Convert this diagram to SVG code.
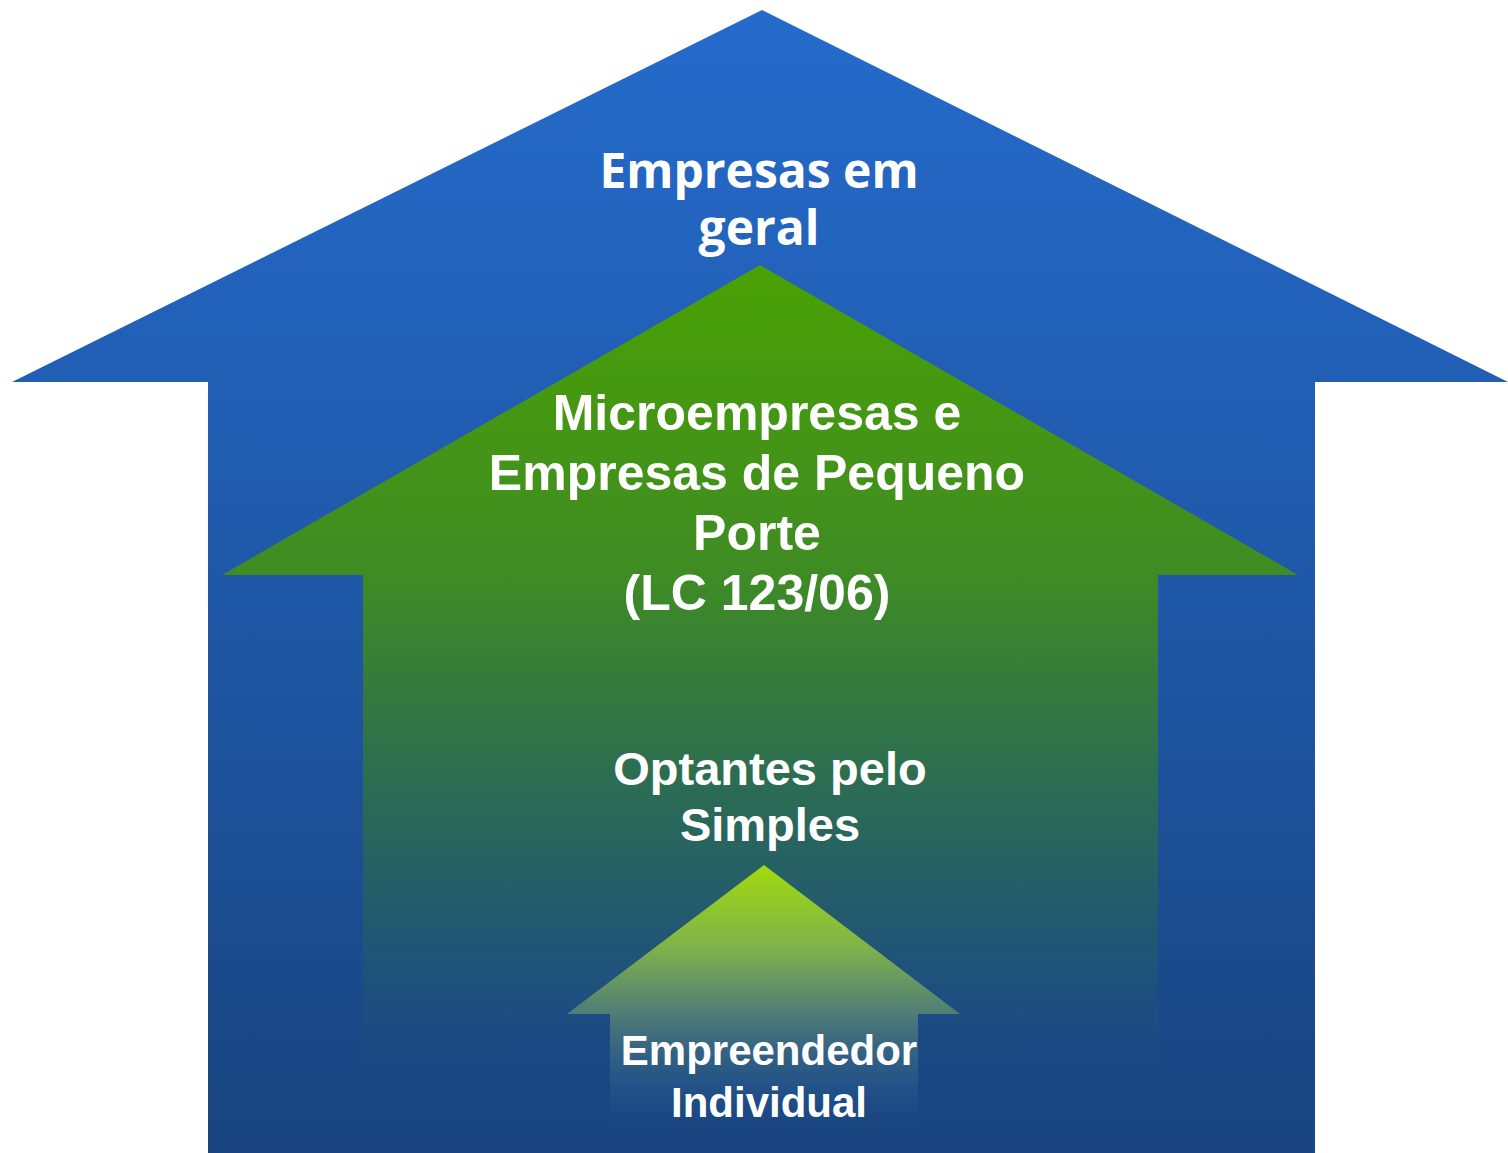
<svg xmlns="http://www.w3.org/2000/svg" width="1508" height="1153" viewBox="0 0 1508 1153">
<defs>
<linearGradient id="gBlue" gradientUnits="userSpaceOnUse" x1="0" y1="10" x2="0" y2="1153">
<stop offset="0" stop-color="#256bcc"/>
<stop offset="0.5" stop-color="#1f58a8"/>
<stop offset="1" stop-color="#19447f"/>
</linearGradient>
<linearGradient id="gGreen" gradientUnits="userSpaceOnUse" x1="0" y1="265" x2="0" y2="1120">
<stop offset="0" stop-color="#4aa103"/>
<stop offset="0.36" stop-color="#3f8c24"/>
<stop offset="0.56" stop-color="#2f724a"/>
<stop offset="0.75" stop-color="#235b6c"/>
<stop offset="0.88" stop-color="#1d4e7e" stop-opacity="0.7"/>
<stop offset="1" stop-color="#1a4786" stop-opacity="0"/>
</linearGradient>
<linearGradient id="gSmall" gradientUnits="userSpaceOnUse" x1="0" y1="865" x2="0" y2="1140">
<stop offset="0" stop-color="#a2da0e"/>
<stop offset="0.3" stop-color="#7fb24a"/>
<stop offset="0.55" stop-color="#4d7a78"/>
<stop offset="0.8" stop-color="#2a5a8a" stop-opacity="0.6"/>
<stop offset="1" stop-color="#1a4786" stop-opacity="0"/>
</linearGradient>
</defs>
<style>
.t{fill:#ffffff;font-weight:bold;text-anchor:middle}
.os{font-family:"Open Sans","DejaVu Sans",sans-serif}
.ar{font-family:"Liberation Sans",Arial,sans-serif}
</style>
<g id="empresas-em-geral">
<polygon points="762,10 1508,382 1315,382 1315,1153 208,1153 208,382 12,382" fill="url(#gBlue)"/>
<text class="t os" x="759" y="188" font-size="48">Empresas em</text>
<text class="t os" x="759" y="245" font-size="48">geral</text>
</g>
<g id="microempresas">
<polygon points="760,265 1298,575 1158,575 1158,1120 363,1120 363,575 222,575" fill="url(#gGreen)"/>
<text class="t ar" x="757" y="430" font-size="50">Microempresas e</text>
<text class="t ar" x="757" y="490" font-size="50">Empresas de Pequeno</text>
<text class="t ar" x="757" y="550" font-size="50">Porte</text>
<text class="t ar" x="757" y="610" font-size="50">(LC 123/06)</text>
</g>
<g id="optantes-simples">
<text class="t ar" x="770" y="785" font-size="47">Optantes pelo</text>
<text class="t ar" x="770" y="841" font-size="47">Simples</text>
</g>
<g id="empreendedor-individual">
<polygon points="764,865 960,1014 918,1014 918,1140 610,1140 610,1014 567,1014" fill="url(#gSmall)"/>
<text class="t ar" x="769" y="1065" font-size="42">Empreendedor</text>
<text class="t ar" x="769" y="1117" font-size="42">Individual</text>
</g>
<g id="connectors"/>
</svg>
